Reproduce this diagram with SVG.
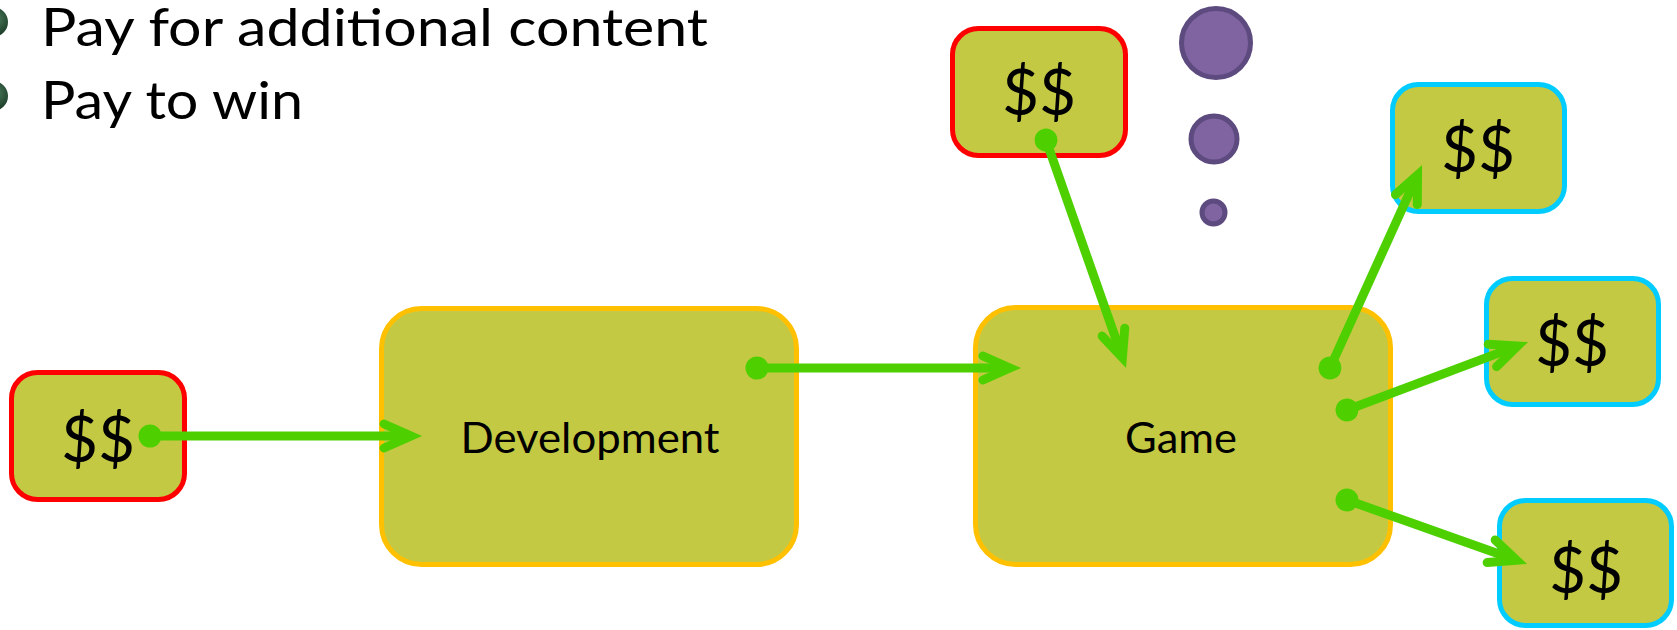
<svg xmlns="http://www.w3.org/2000/svg" width="1677" height="630" viewBox="0 0 1677 630">
  <style>
    .box { fill: #c4c944; stroke-width: 5; }
    .big { stroke: #ffc000; }
    .red { stroke: #ff0000; }
    .cyan { stroke: #00ccff; }
    .lbl { font-family: Lato, "Open Sans", sans-serif; fill: #000; text-anchor: middle; }
    .dollar { font-size: 64px; }
    .name { font-size: 42px; }
    .bullet-text { font-family: Lato, "Open Sans", sans-serif; font-size: 52px; fill: #000; }
    .conn { fill: none; stroke: #4ed000; stroke-width: 9; marker-start: url(#dot); marker-end: url(#arrow); }
    .planet { fill: #8064a2; stroke: #5d4a7e; stroke-width: 5; }
  </style>
  <defs>
    <radialGradient id="bulletGrad" cx="0.6" cy="0.4" r="0.7">
      <stop offset="0" stop-color="#4a7a5a"/>
      <stop offset="1" stop-color="#0e2a1a"/>
    </radialGradient>
    <marker id="dot" markerUnits="userSpaceOnUse" viewBox="-15 -15 30 30" markerWidth="30" markerHeight="30" refX="0" refY="0" orient="auto" overflow="visible">
      <circle cx="0" cy="0" r="11.5" fill="#4ed000"/>
    </marker>
    <marker id="arrow" markerUnits="userSpaceOnUse" viewBox="-40 -20 60 40" markerWidth="60" markerHeight="40" refX="0" refY="0" orient="auto" overflow="visible">
      <path d="M-27,-12 L0,0 L-27,12" fill="none" stroke="#4ed000" stroke-width="9" stroke-linecap="round" stroke-linejoin="miter" stroke-miterlimit="10"/>
    </marker>
  </defs>

  <rect width="1677" height="630" fill="#ffffff"/>

  <g id="bullets">
    <circle cx="-7" cy="22" r="15" fill="url(#bulletGrad)"/>
    <circle cx="-7" cy="96" r="15" fill="url(#bulletGrad)"/>
    <text class="bullet-text" x="41" y="46" textLength="667" lengthAdjust="spacingAndGlyphs">Pay for additional content</text>
    <text class="bullet-text" x="41" y="119" textLength="262" lengthAdjust="spacingAndGlyphs">Pay to win</text>
  </g>

  <g id="planets">
    <circle class="planet" cx="1216" cy="43" r="34.5"/>
    <circle class="planet" cx="1214" cy="139" r="23"/>
    <circle class="planet" cx="1213.5" cy="212.5" r="11.5"/>
  </g>

  <g id="money-in">
    <rect class="box red" x="11.5" y="372.5" width="173" height="127" rx="26"/>
    <text class="lbl dollar" x="98" y="462">$$</text>
  </g>

  <g id="development">
    <rect class="box big" x="381.5" y="308.5" width="415" height="256" rx="40"/>
    <text class="lbl name" x="590" y="453" textLength="259" lengthAdjust="spacingAndGlyphs">Development</text>
  </g>

  <g id="game">
    <rect class="box big" x="975.5" y="307.5" width="415" height="257" rx="40"/>
    <text class="lbl name" x="1181" y="453" textLength="112" lengthAdjust="spacingAndGlyphs">Game</text>
  </g>

  <g id="money-top">
    <rect class="box red" x="952.5" y="28.5" width="173" height="127" rx="26"/>
    <text class="lbl dollar" x="1039" y="115">$$</text>
  </g>

  <g id="money-out-1">
    <rect class="box cyan" x="1392.5" y="84.5" width="172" height="127" rx="26"/>
    <text class="lbl dollar" x="1478" y="172">$$</text>
  </g>

  <g id="money-out-2">
    <rect class="box cyan" x="1486.5" y="278.5" width="172" height="126" rx="26"/>
    <text class="lbl dollar" x="1572" y="366">$$</text>
  </g>

  <g id="money-out-3">
    <rect class="box cyan" x="1499.5" y="500.5" width="172" height="125" rx="26"/>
    <text class="lbl dollar" x="1586" y="593">$$</text>
  </g>

  <g id="connectors">
    <path class="conn" d="M150,436 L411,436"/>
    <path class="conn" d="M757,368 L1010,368"/>
    <path class="conn" d="M1046,140 L1122.4,357.6"/>
    <path class="conn" d="M1330,368 L1417.5,175"/>
    <path class="conn" d="M1347,410 L1517.7,345.9"/>
    <path class="conn" d="M1347,500 L1516.6,560.3"/>
  </g>
</svg>
